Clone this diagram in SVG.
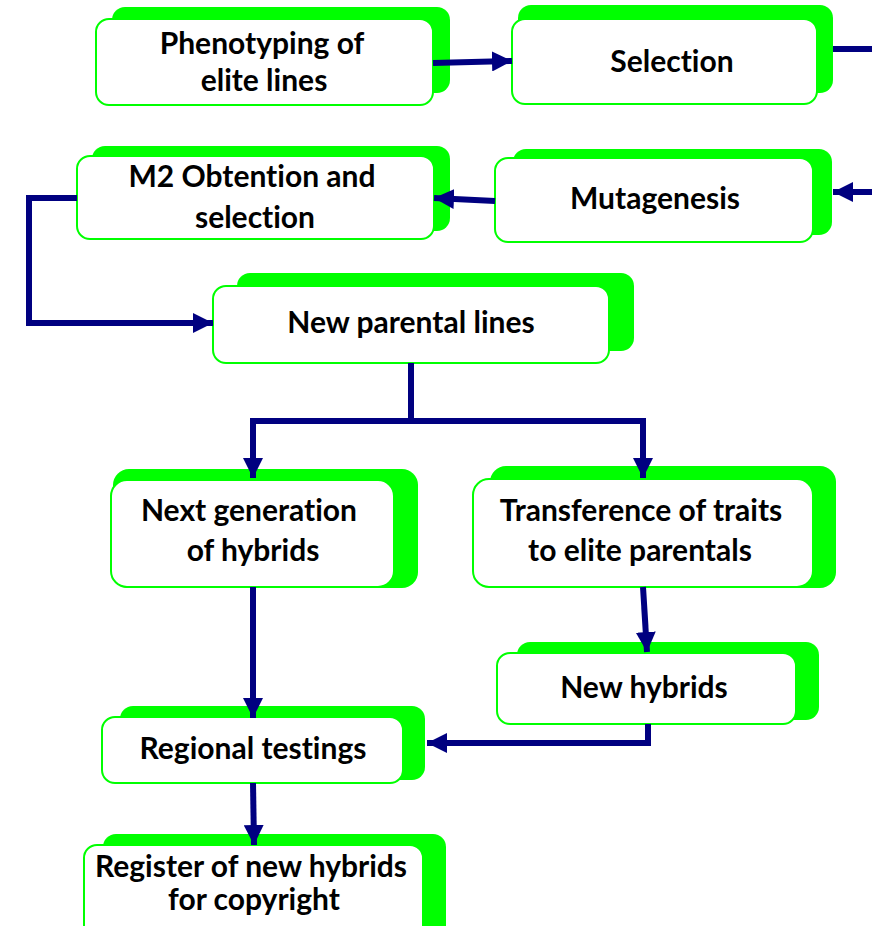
<svg xmlns="http://www.w3.org/2000/svg" width="872" height="926" viewBox="0 0 872 926">
<style>
.sh{fill:#00FF00;}
.bx{fill:#FFFFFF;stroke:#00FF00;stroke-width:2;}
.t{font-family:Lato,"Liberation Sans",sans-serif;font-weight:bold;font-size:30px;fill:#000;text-anchor:middle;font-variant-ligatures:none;}
.c{fill:none;stroke:#000080;stroke-width:6;stroke-linejoin:miter;}
</style>
<defs>
<marker id="ah" markerUnits="userSpaceOnUse" markerWidth="20" markerHeight="20" viewBox="0 0 20 20" refX="20" refY="10" orient="auto">
<path d="M0,0 L20,10 L0,20 Z" fill="#000080"/>
</marker>
</defs>
<rect width="872" height="926" fill="#FFFFFF"/>
<g id="n-phenotyping">
<rect class="sh" x="112" y="7" width="338" height="86" rx="13"/>
<rect class="bx" x="96" y="19" width="337" height="86" rx="13"/>
<text class="t" x="262" y="54">Phenotyping of</text>
<text class="t" x="264" y="91">elite lines</text>
</g>
<g id="n-selection">
<rect class="sh" x="518" y="5" width="315" height="88" rx="13"/>
<rect class="bx" x="512" y="19" width="305" height="85" rx="13"/>
<text class="t" x="672" y="72">Selection</text>
</g>
<g id="n-m2">
<rect class="sh" x="92" y="146" width="358" height="85" rx="13"/>
<rect class="bx" x="77" y="156" width="357" height="83" rx="13"/>
<text class="t" x="252" y="187">M2 Obtention and</text>
<text class="t" x="255" y="228">selection</text>
</g>
<g id="n-mutagenesis">
<rect class="sh" x="513" y="149" width="319" height="86" rx="13"/>
<rect class="bx" x="495" y="158" width="318" height="84" rx="13"/>
<text class="t" x="655" y="209">Mutagenesis</text>
</g>
<g id="n-parental">
<rect class="sh" x="237" y="273" width="397" height="78" rx="13"/>
<rect class="bx" x="213" y="286" width="396" height="77" rx="13"/>
<text class="t" x="411" y="333">New parental lines</text>
</g>
<g id="n-nextgen">
<rect class="sh" x="113" y="469" width="305" height="119" rx="16"/>
<rect class="bx" x="111" y="480" width="283" height="107" rx="16"/>
<text class="t" x="249" y="521">Next generation</text>
<text class="t" x="253" y="561">of hybrids</text>
</g>
<g id="n-transference">
<rect class="sh" x="490" y="466" width="346" height="122" rx="16"/>
<rect class="bx" x="473" y="479" width="340" height="108" rx="16"/>
<text class="t" x="641" y="521">Transference of traits</text>
<text class="t" x="640" y="561">to elite parentals</text>
</g>
<g id="n-newhybrids">
<rect class="sh" x="517" y="642" width="302" height="78" rx="13"/>
<rect class="bx" x="497" y="653" width="299" height="71" rx="13"/>
<text class="t" x="644" y="698">New hybrids</text>
</g>
<g id="n-regional">
<rect class="sh" x="120" y="706" width="305" height="74" rx="13"/>
<rect class="bx" x="102" y="717" width="301" height="66" rx="13"/>
<text class="t" x="253" y="759">Regional testings</text>
</g>
<g id="n-register">
<rect class="sh" x="103" y="834" width="343" height="110" rx="13"/>
<rect class="bx" x="84" y="845" width="339" height="100" rx="13"/>
<text class="t" x="251" y="877">Register of new hybrids</text>
<text class="t" x="254" y="910">for copyright</text>
</g>
<g id="connectors">
<path class="c" d="M433,63 L512,61" marker-end="url(#ah)"/>
<path class="c" d="M833,49 L872,49"/>
<path class="c" d="M872,192 L833,192" marker-end="url(#ah)"/>
<path class="c" d="M495,201 L434,198" marker-end="url(#ah)"/>
<path class="c" d="M77,198 L29,198 L29,323 L213,323" marker-end="url(#ah)"/>
<path class="c" d="M411,363 L411,421"/>
<path class="c" d="M253,478 L253,421 L643,421 L643,478"/>
<path class="c" d="M253,421 L253,478" marker-end="url(#ah)"/>
<path class="c" d="M643,421 L643,478" marker-end="url(#ah)"/>
<path class="c" d="M643,587 L647,652" marker-end="url(#ah)"/>
<path class="c" d="M648,724 L648,743 L427,743" marker-end="url(#ah)"/>
<path class="c" d="M253,587 L253,718" marker-end="url(#ah)"/>
<path class="c" d="M253,783 L254,845" marker-end="url(#ah)"/>
</g>
</svg>
